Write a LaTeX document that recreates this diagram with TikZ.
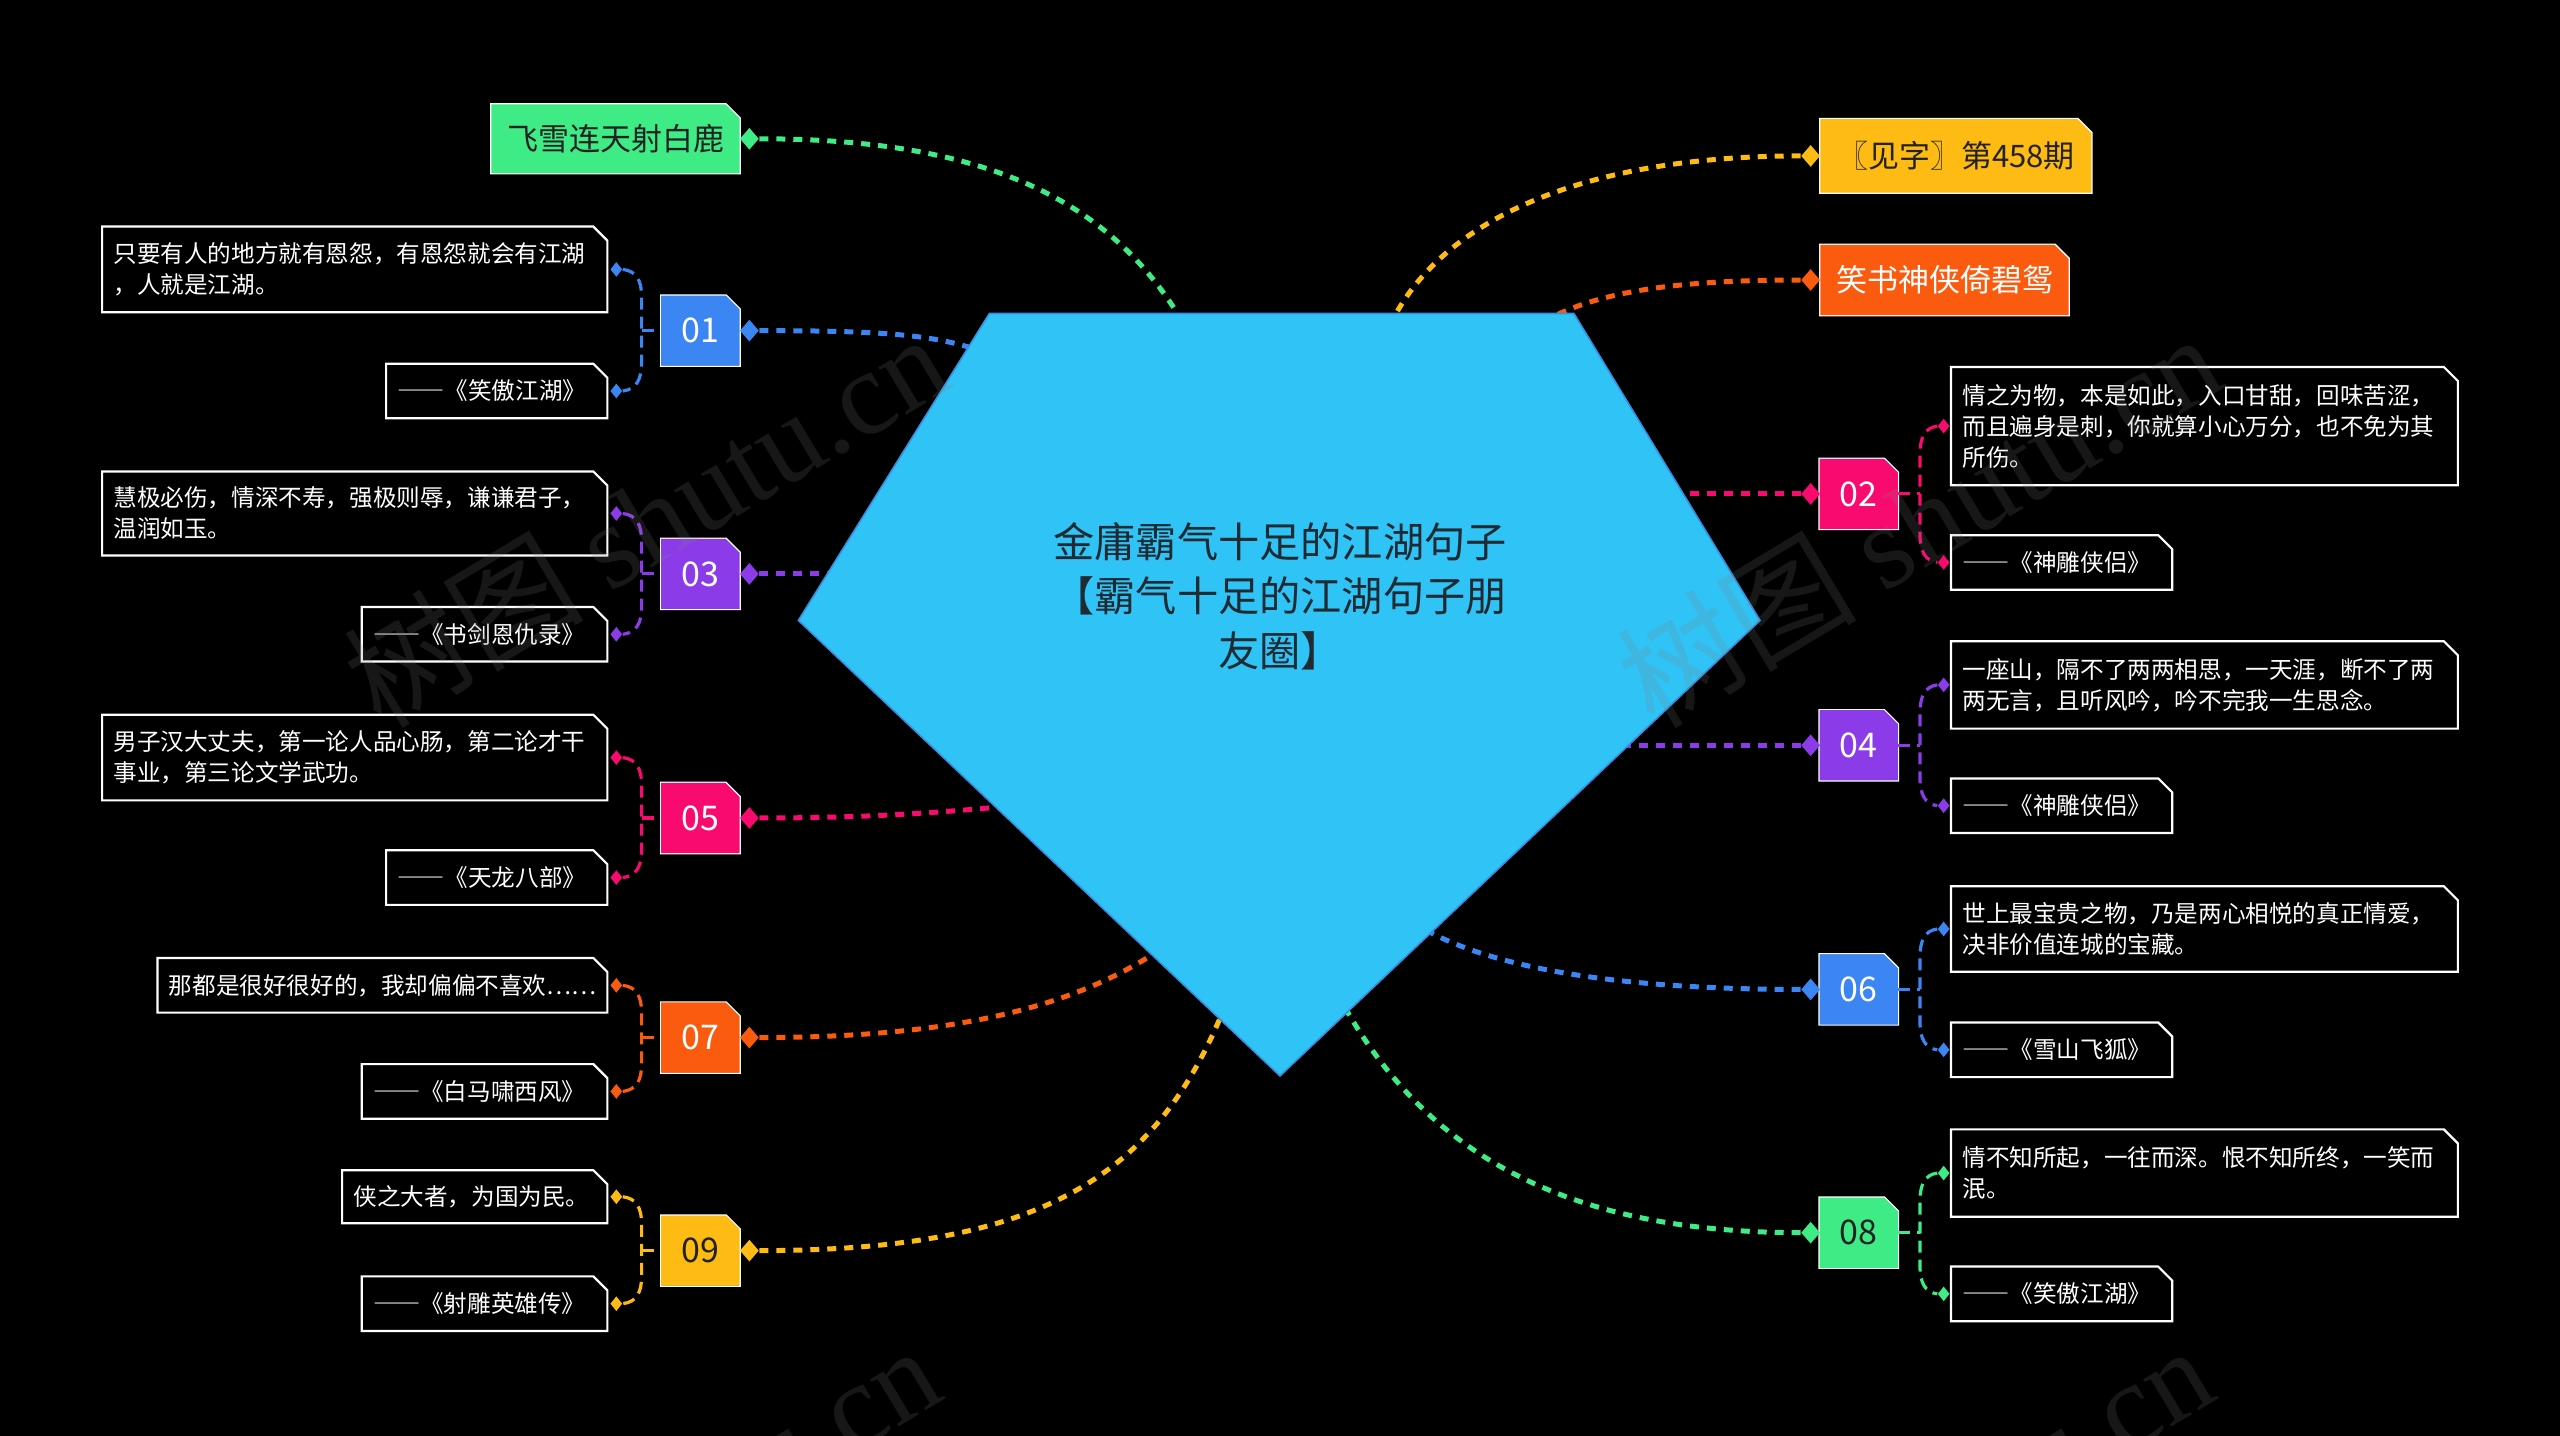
\documentclass[tikz,border=0pt]{standalone}
\usepackage{fontspec}
\setmainfont{Noto Sans CJK SC}
\newfontfamily\wmlat{Liberation Serif}
\newfontfamily\dashfont[RawFeature=+fwid]{Noto Sans CJK SC}
\newcommand\DD{{\dashfont ——}}
\usetikzlibrary{shapes.geometric}
\definecolor{cBlue}{HTML}{3B86F2}
\definecolor{cPurple}{HTML}{8B3CE8}
\definecolor{cPink}{HTML}{F80A6E}
\definecolor{cOrange}{HTML}{FB5B0E}
\definecolor{cYellow}{HTML}{FDBB13}
\definecolor{cGreen}{HTML}{3EEB85}
\definecolor{cSky}{HTML}{30C3F5}
\definecolor{cSkyEdge}{HTML}{3A8EE0}
\definecolor{cTitle}{HTML}{1F2A33}
\definecolor{cTxt}{HTML}{222222}
\tikzset{
  chout/.style={append after command={\pgfextra{\draw[white,line width=#1] (\tikzlastnode.south west) -- (\tikzlastnode.north west) -- ([xshift=-7pt]\tikzlastnode.north east) -- ([yshift=-7pt]\tikzlastnode.north east) -- (\tikzlastnode.south east) -- cycle;}}},
  chfill/.style={path picture={\fill[#1] (path picture bounding box.south west) -- (path picture bounding box.north west) -- ([xshift=-7pt]path picture bounding box.north east) -- ([yshift=-7pt]path picture bounding box.north east) -- (path picture bounding box.south east) -- cycle;}},
  qbox/.style={rectangle, inner xsep=5.5pt, inner ysep=0pt, text width=#1, align=left, text=white, font=\fontsize{11.8}{15.5}\selectfont, chout=1.1pt},
  numbox/.style={rectangle, minimum width=39.2pt, minimum height=35.1pt, inner sep=0pt, font=\fontsize{17}{19}\selectfont, text=white, chfill=#1, chout=0.8pt},
  lbl/.style={rectangle, inner sep=0pt, font=\fontsize{15.5}{18}\selectfont, chfill=#1, chout=0.9pt},
  dia/.style={diamond, fill=#1, inner sep=0pt, minimum width=9.5pt, minimum height=11pt},
  sdia/.style={diamond, fill=#1, inner sep=0pt, minimum width=6pt, minimum height=7.5pt},
  mainc/.style={line width=2.5pt, dash pattern=on 4.5pt off 4pt, draw=#1},
  brk/.style={line width=1.6pt, dash pattern=on 6pt off 3.5pt, draw=#1},
  wm/.style={rotate=31, text=gray, opacity=0.18, font=\fontsize{60}{60}\selectfont, inner sep=0pt},
}
\begin{document}
\begin{tikzpicture}[x=0.8163pt, y=-0.8163pt]
\useasboundingbox (0,0) rectangle (1568,879);
\fill[black] (-10,-10) rectangle (1578,889);

% ---------- top labels ----------
\node[lbl=cGreen, text=cTxt, minimum width=124.1pt, minimum height=34.3pt] (FX) at (377,85) {飞雪连天射白鹿};
\node[dia=cGreen] (dFX) at (459,85) {};
\node[lbl=cYellow, text=cTxt, minimum width=135.5pt, minimum height=36.7pt] (JZ) at (1198,95.5) {〖见字〗第458期};
\node[dia=cYellow] (dJZ) at (1109,95.5) {};
\node[lbl=cOrange, text=white, minimum width=124.1pt, minimum height=35.1pt] (XS) at (1191,171.5) {笑书神侠倚碧鸳};
\node[dia=cOrange] (dXS) at (1109,171.5) {};

% ---------- left groups ----------
% 01
\node[numbox=cBlue] (n01) at (429,202.5) {01};
\node[dia=cBlue] (d01) at (459,202.5) {};
\node[qbox=241.2pt, minimum height=42.4pt, anchor=east] (q01) at (372,165) {只要有人的地方就有恩怨，有恩怨就会有江湖\\，人就是江湖。};
\node[qbox=99.2pt, minimum height=26.9pt, anchor=east] (s01) at (372,239.5) {\DD《笑傲江湖》};
\node[sdia=cBlue] (qd01) at (377.5,165) {};
\node[sdia=cBlue] (sd01) at (377.5,239.5) {};
\coordinate (b01) at (393,202.5);
\draw[brk=cBlue] (qd01.east) .. controls (390,166) and (393,172) .. (393,182) -- (393,222) .. controls (393,232) and (390,238.5) .. (sd01.east);
\draw[brk=cBlue] (b01) -- (n01.west);
% 03
\node[numbox=cPurple] (n03) at (429,351.5) {03};
\node[dia=cPurple] (d03) at (459,351.5) {};
\node[qbox=241.2pt, minimum height=41.6pt, anchor=east] (q03) at (372,314.5) {慧极必伤，情深不寿，强极则辱，谦谦君子，\\温润如玉。};
\node[qbox=111.4pt, minimum height=26.9pt, anchor=east] (s03) at (372,388.5) {\DD《书剑恩仇录》};
\node[sdia=cPurple] (qd03) at (377.5,314.5) {};
\node[sdia=cPurple] (sd03) at (377.5,388.5) {};
\coordinate (b03) at (393,351.5);
\draw[brk=cPurple] (qd03.east) .. controls (390,315.5) and (393,321.5) .. (393,331.5) -- (393,371.5) .. controls (393,381.5) and (390,387.5) .. (sd03.east);
\draw[brk=cPurple] (b03) -- (n03.west);
% 05
\node[numbox=cPink] (n05) at (429,501) {05};
\node[dia=cPink] (d05) at (459,501) {};
\node[qbox=241.2pt, minimum height=42.4pt, anchor=east] (q05) at (372,464) {男子汉大丈夫，第一论人品心肠，第二论才干\\事业，第三论文学武功。};
\node[qbox=99.2pt, minimum height=26.9pt, anchor=east] (s05) at (372,537.5) {\DD《天龙八部》};
\node[sdia=cPink] (qd05) at (377.5,464) {};
\node[sdia=cPink] (sd05) at (377.5,537.5) {};
\coordinate (b05) at (393,501);
\draw[brk=cPink] (qd05.east) .. controls (390,465) and (393,471) .. (393,481) -- (393,520.5) .. controls (393,530.5) and (390,536.5) .. (sd05.east);
\draw[brk=cPink] (b05) -- (n05.west);
% 07
\node[numbox=cOrange] (n07) at (429,635.5) {07};
\node[dia=cOrange] (d07) at (459,635.5) {};
\node[qbox=213.5pt, minimum height=26.9pt, anchor=east] (q07) at (372,603.5) {那都是很好很好的，我却偏偏不喜欢……};
\node[qbox=111.4pt, minimum height=26.9pt, anchor=east] (s07) at (372,668.5) {\DD《白马啸西风》};
\node[sdia=cOrange] (qd07) at (377.5,603.5) {};
\node[sdia=cOrange] (sd07) at (377.5,668.5) {};
\coordinate (b07) at (393,635.5);
\draw[brk=cOrange] (qd07.east) .. controls (390,604.5) and (393,610.5) .. (393,620.5) -- (393,651.5) .. controls (393,661.5) and (390,667.5) .. (sd07.east);
\draw[brk=cOrange] (b07) -- (n07.west);
% 09
\node[numbox=cYellow, text=cTxt] (n09) at (429,766) {09};
\node[dia=cYellow] (d09) at (459,766) {};
\node[qbox=121.2pt, minimum height=26.1pt, anchor=east] (q09) at (372,733) {侠之大者，为国为民。};
\node[qbox=111.4pt, minimum height=26.9pt, anchor=east] (s09) at (372,798.5) {\DD《射雕英雄传》};
\node[sdia=cYellow] (qd09) at (377.5,733) {};
\node[sdia=cYellow] (sd09) at (377.5,798.5) {};
\coordinate (b09) at (393,766);
\draw[brk=cYellow] (qd09.east) .. controls (390,734) and (393,740) .. (393,750) -- (393,781.5) .. controls (393,791.5) and (390,797.5) .. (sd09.east);
\draw[brk=cYellow] (b09) -- (n09.west);

% ---------- right groups ----------
% 02
\node[numbox=cPink] (n02) at (1138.5,302.5) {02};
\node[dia=cPink] (d02) at (1109,302.5) {};
\node[qbox=242pt, minimum height=58.8pt, anchor=west] (q02) at (1195,261) {情之为物，本是如此，入口甘甜，回味苦涩，\\而且遍身是刺，你就算小心万分，也不免为其\\所伤。};
\node[qbox=99.2pt, minimum height=26.9pt, anchor=west] (s02) at (1195,344.5) {\DD《神雕侠侣》};
\node[sdia=cPink] (qd02) at (1190.5,261) {};
\node[sdia=cPink] (sd02) at (1190.5,344.5) {};
\coordinate (b02) at (1176,302.5);
\draw[brk=cPink] (qd02.west) .. controls (1179,262) and (1176,268) .. (1176,278) -- (1176,327.5) .. controls (1176,337.5) and (1179,343.5) .. (sd02.west);
\draw[brk=cPink] (n02.east) -- (b02);
% 04
\node[numbox=cPurple] (n04) at (1138.5,456.5) {04};
\node[dia=cPurple] (d04) at (1109,456.5) {};
\node[qbox=242pt, minimum height=43.3pt, anchor=west] (q04) at (1195,419.5) {一座山，隔不了两两相思，一天涯，断不了两\\两无言，且听风吟，吟不完我一生思念。};
\node[qbox=99.2pt, minimum height=26.9pt, anchor=west] (s04) at (1195,493.5) {\DD《神雕侠侣》};
\node[sdia=cPurple] (qd04) at (1190.5,419.5) {};
\node[sdia=cPurple] (sd04) at (1190.5,493.5) {};
\coordinate (b04) at (1176,456.5);
\draw[brk=cPurple] (qd04.west) .. controls (1179,420.5) and (1176,426.5) .. (1176,436.5) -- (1176,476.5) .. controls (1176,486.5) and (1179,492.5) .. (sd04.west);
\draw[brk=cPurple] (n04.east) -- (b04);
% 06
\node[numbox=cBlue] (n06) at (1138.5,606) {06};
\node[dia=cBlue] (d06) at (1109,606) {};
\node[qbox=242pt, minimum height=42.4pt, anchor=west] (q06) at (1195,569) {世上最宝贵之物，乃是两心相悦的真正情爱，\\决非价值连城的宝藏。};
\node[qbox=99.2pt, minimum height=26.9pt, anchor=west] (s06) at (1195,643) {\DD《雪山飞狐》};
\node[sdia=cBlue] (qd06) at (1190.5,569) {};
\node[sdia=cBlue] (sd06) at (1190.5,643) {};
\coordinate (b06) at (1176,606);
\draw[brk=cBlue] (qd06.west) .. controls (1179,570) and (1176,576) .. (1176,586) -- (1176,626) .. controls (1176,636) and (1179,642) .. (sd06.west);
\draw[brk=cBlue] (n06.east) -- (b06);
% 08
\node[numbox=cGreen, text=cTxt] (n08) at (1138.5,755) {08};
\node[dia=cGreen] (d08) at (1109,755) {};
\node[qbox=242pt, minimum height=43.3pt, anchor=west] (q08) at (1195,718.5) {情不知所起，一往而深。恨不知所终，一笑而\\泯。};
\node[qbox=99.2pt, minimum height=26.9pt, anchor=west] (s08) at (1195,792.5) {\DD《笑傲江湖》};
\node[sdia=cGreen] (qd08) at (1190.5,718.5) {};
\node[sdia=cGreen] (sd08) at (1190.5,792.5) {};
\coordinate (b08) at (1176,755);
\draw[brk=cGreen] (qd08.west) .. controls (1179,719.5) and (1176,725.5) .. (1176,735.5) -- (1176,775.5) .. controls (1176,785.5) and (1179,791.5) .. (sd08.west);
\draw[brk=cGreen] (n08.east) -- (b08);

% ---------- main connectors ----------
\coordinate (eFX) at (726,200);
\coordinate (e01) at (598,214);
\coordinate (e03) at (512,351.5);
\coordinate (e05) at (616,494);
\coordinate (e07) at (710,582);
\coordinate (e09) at (752,612);
\coordinate (eJZ) at (852,198);
\coordinate (eXS) at (944,198);
\coordinate (e02) at (1026,302.5);
\coordinate (e04) at (994,456.5);
\coordinate (e06) at (874,570);
\coordinate (e08) at (822,614);
\draw[mainc=cGreen] (dFX.east) .. controls (600,85) and (680,120) .. (eFX);
\draw[mainc=cBlue] (d01.east) .. controls (540,202.5) and (570,205) .. (e01);
\draw[mainc=cPurple] (d03.east) -- (e03);
\draw[mainc=cPink] (d05.east) .. controls (540,501) and (580,497) .. (e05);
\draw[mainc=cOrange] (d07.east) .. controls (590,635.5) and (660,615) .. (e07);
\draw[mainc=cYellow] (d09.east) .. controls (640,766) and (710,720) .. (e09);
\draw[mainc=cYellow] (dJZ.west) .. controls (960,95.5) and (880,140) .. (eJZ);
\draw[mainc=cOrange] (dXS.west) .. controls (1040,171.5) and (980,176) .. (eXS);
\draw[mainc=cPink] (d02.west) -- (e02);
\draw[mainc=cPurple] (d04.west) -- (e04);
\draw[mainc=cBlue] (d06.west) .. controls (1000,606) and (920,595) .. (e06);
\draw[mainc=cGreen] (d08.west) .. controls (950,755) and (870,700) .. (e08);

% ---------- central pentagon ----------
\filldraw[fill=cSky, draw=cSkyEdge, line width=0.8pt] (606,192) -- (964,192) -- (1078,380) -- (784,659) -- (489,380) -- cycle;
\node[align=center, text=cTitle, font=\fontsize{20.6}{27.3}\selectfont] (T) at (784,365) {金庸霸气十足的江湖句子\\【霸气十足的江湖句子朋\\友圈】};

% ---------- watermarks ----------
\node[wm] (w1) at (395,318) {树图 {\wmlat shutu.cn}};
\node[wm] (w2) at (1175,318) {树图 {\wmlat shutu.cn}};
\node[wm] (w3) at (390,938) {树图 {\wmlat shutu.cn}};
\node[wm] (w4) at (1170,938) {树图 {\wmlat shutu.cn}};
\end{tikzpicture}
\end{document}
